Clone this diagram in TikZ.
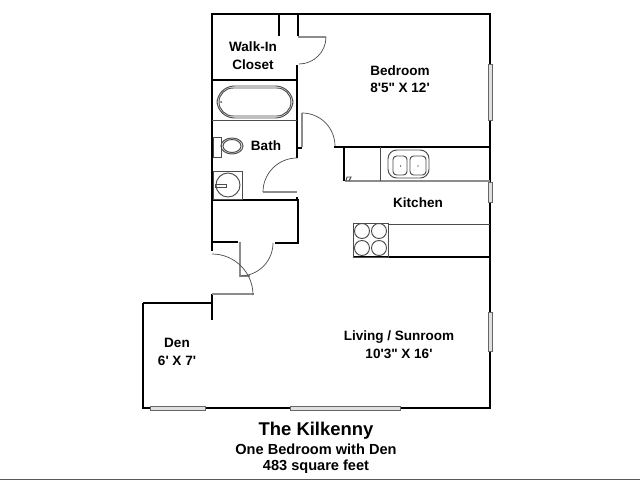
\documentclass[tikz,border=0pt]{standalone}
\usepackage{fontspec}
\setmainfont{Liberation Sans}[Ligatures=TeXOff]
\tikzset{
  wall/.style={draw=black,line width=1.7pt},
  thin wall/.style={draw=black,line width=1.2pt},
  fixture/.style={draw=black!70,line width=0.55pt},
  frame/.style={draw=black!45,line width=0.8pt},
  swing/.style={draw=black!70,line width=0.4pt},
  glass/.style={draw=black!60,fill=black!12,line width=0.4pt},
  room/.style={font=\bfseries\fontsize{7.7}{9}\selectfont,align=center,inner sep=0pt},
}
\begin{document}
\begin{tikzpicture}[x=0.02cm,y=-0.02cm]
    \useasboundingbox (0,0) rectangle (640,480);
    \fill[white] (0,0) rectangle (640,480);
    % outer walls
    \draw[wall] (212,251) -- (212,14) -- (490,14) -- (490,408) -- (400,408);
    \draw[thin wall] (290,408) -- (205,408);
    \draw[thin wall] (150,408) -- (143,408) -- (143,303);
    \draw[wall] (143,303) -- (212,303);
    \draw[wall] (212,320) -- (212,294);
    \draw[wall] (212,242) -- (238,242);
    % closet and bath
    \draw[wall] (279,14) -- (279,36);
    \draw[wall] (298,14) -- (298,36);
    \draw[wall] (212,80) -- (297,80);
    \draw[wall] (297,65) -- (297,158);
    \draw[wall] (297,148) -- (302,148);
    \draw[wall] (212,200) -- (298,200) -- (298,243) -- (275,243);
    \draw[wall] (297,197) -- (297,200);
    % kitchen
    \draw[wall] (334,147) -- (490,147);
    \draw[wall] (344,147) -- (344,181);
    \draw[wall] (353,257) -- (490,257);
    \draw[frame] (345,181) -- (490,181);
    \draw[fixture] (380,147) -- (380,181);
    \draw[fixture] (388,224) -- (490,224);
    \draw[fixture] (346,181) -- (347,177) -- (351,177) -- (349,181);
    % doors
    \draw[frame] (298,37) -- (326,37);
    \draw[swing] (326,37) arc[start angle=0,end angle=90,radius=27];
    \draw[frame] (302,113) -- (302,147);
    \draw[swing] (302,113) arc[start angle=-90,end angle=0,radius=33];
    \draw[frame] (263,192) -- (297,192);
    \draw[swing] (297,158) arc[start angle=-90,end angle=-180,radius=34];
    \draw[frame] (240,242) -- (240,276) -- (250,276);
    \draw[swing] (273,243) arc[start angle=0,end angle=90,radius=33];
    \draw[frame] (212,294) -- (254,294);
    \draw[swing] (212,254) arc[start angle=-90,end angle=0,radius=41];
    % windows
    \draw[glass] (488,64) rectangle (492,120);
    \draw[glass] (488,182) rectangle (492,202);
    \draw[glass] (488,312) rectangle (492,351);
    \draw[glass] (150,406) rectangle (205,410);
    \draw[glass] (290,406) rectangle (400,410);
    % tub
    \draw[fixture] (212,120) -- (297,120);
    \draw[fixture,rounded corners=10] (217,86) rectangle (293,118);
    \draw[fixture,rounded corners=8] (219,88) rectangle (291,116);
    \fill[black!70] (221,102) circle (1);
    % toilet and basin
    \draw[fixture] (213,137) rectangle (221,157);
    \draw[fixture] (232,146) ellipse (11 and 8);
    \draw[fixture] (232,146) ellipse (9 and 6.5);
    \draw[fixture] (213,171) rectangle (242,199);
    \draw[fixture] (228,185) circle (12);
    \draw[fixture] (215,184) rectangle (226,187);
    % sink
    \draw[fixture,rounded corners=5] (388,150) rectangle (429,178);
    \draw[fixture,rounded corners=2] (393,156) rectangle (407,175);
    \draw[fixture,rounded corners=2] (410,156) rectangle (426,175);
    \foreach \x in {400.5,418}{
      \fill[black] (\x,166) circle (0.6);
    }
    % stove
    \draw[fixture] (353,223) rectangle (388,257);
    \foreach \x in {362,379}{
      \foreach \y in {231,248}{
        \draw[fixture] (\x,\y) circle (7.5);
      }
    }
    % labels
    \node[room] (closet) at (253,56) {Walk-In\\[1.3pt]Closet};
    \node[room] (bedroom) at (400,79) {Bedroom\\[0.6pt]8'5" X 12'};
    \node[room] (bath) at (266,146) {Bath};
    \node[room] (kitchen) at (418,203) {Kitchen};
    \node[room] (den) at (177,352) {Den\\[1.3pt]6' X 7'};
    \node[room] (living) at (399,345) {Living / Sunroom\\[1.3pt]10'3" X 16'};
    \node[font=\bfseries\fontsize{10.5}{12}\selectfont,inner sep=0pt] (title) at (316,431) {The Kilkenny};
    \node[font=\bfseries\fontsize{8.3}{10}\selectfont,inner sep=0pt] (plan) at (316,449) {One Bedroom with Den};
    \node[font=\bfseries\fontsize{8.3}{10}\selectfont,inner sep=0pt] (area) at (316,467) {483 square feet};
    \draw[black!65,line width=0.6pt] (0,479.5) -- (640,479.5);
\end{tikzpicture}
\end{document}
